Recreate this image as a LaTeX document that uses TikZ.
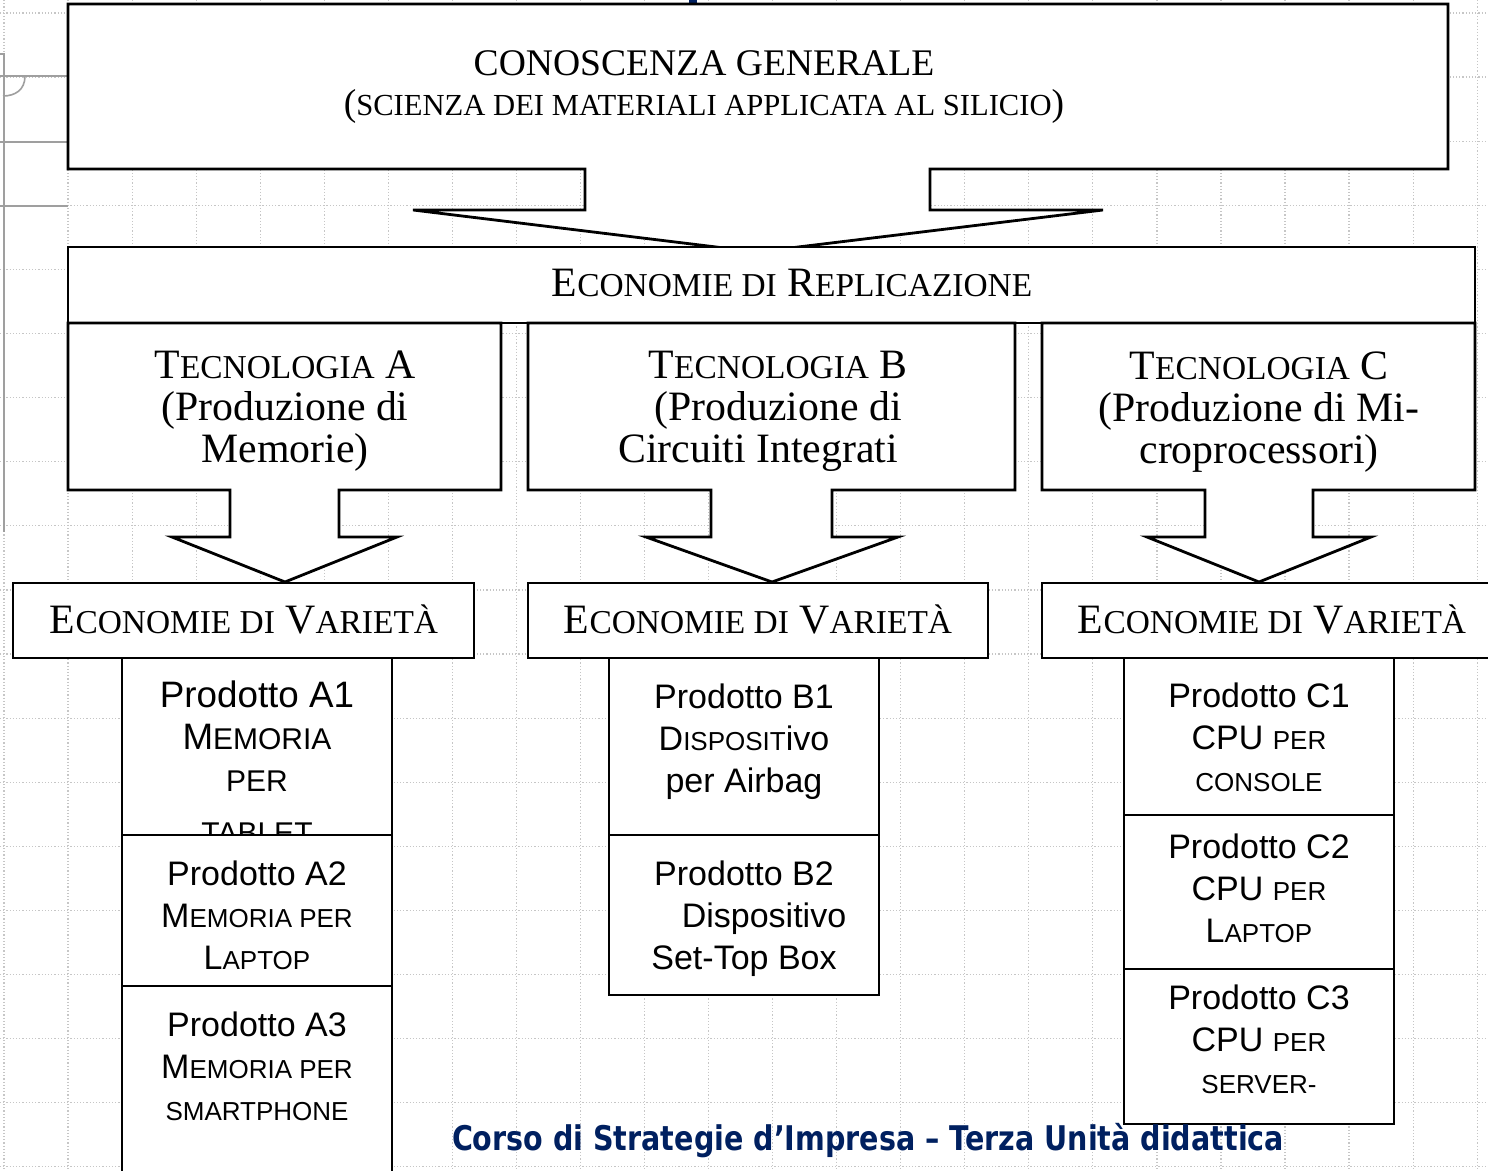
\documentclass[tikz,border=0pt]{standalone}
\usepackage{fontspec}
\setmainfont{Liberation Serif}
\setsansfont{Liberation Sans}
\newfontfamily\footfont{DejaVu Sans}
\definecolor{navy}{RGB}{0,32,96}
% small caps faked by size
\newcommand\sct[1]{{\fontsize{16.7}{21}\selectfont #1}}
\newcommand\scp[1]{{\fontsize{13}{21}\selectfont #1}}
\newcommand\scpbig[1]{{\fontsize{15}{21}\selectfont #1}}

\begin{document}
\begin{tikzpicture}[x=0.5pt, y=-0.5pt,
  box/.style={draw, line width=1.4pt, fill=white, line join=miter},
  serif/.style={inner sep=0, align=center, font=\fontsize{20.9}{21}\selectfont},
  prod/.style={inner sep=0, align=center, anchor=north, font=\sffamily\fontsize{17}{21}\selectfont},
  prodbig/.style={prod, font=\sffamily\fontsize{18.4}{21}\selectfont},
  grid line/.style={gray!45, densely dotted, line width=0.6pt},
  mark line/.style={gray!75, line width=0.8pt}]
\useasboundingbox (0,0) rectangle (1488,1171);

% background grid
\foreach \i in {0,...,23}
  \draw[grid line] ({4+64.05*\i},0) -- ({4+64.05*\i},1171);
\foreach \j in {0,...,18}
  \draw[grid line] (0,{13+64.1*\j}) -- (1488,{13+64.1*\j});
\draw[mark line] (0,54) -- (4,54) -- (4,532);
\draw[mark line] (0,76) -- (68,76);
\draw[mark line] (25,76) .. controls (25,90) and (15,96) .. (3,96);
\draw[mark line] (0,142) -- (68,142);
\draw[mark line] (0,206) -- (68,206);
\fill[navy] (689,0) rectangle (697,4);

% conoscenza generale
\draw[box] (68,4) -- (1448,4) -- (1448,169) -- (930,169) -- (930,210) -- (1103,210)
  -- (757,252) -- (413,210) -- (585,210) -- (585,169) -- (68,169) -- cycle;
\node[inner sep=0, align=center, anchor=north, font=\fontsize{18.8}{20}\selectfont] (gen) at (704,50)
  {CONOSCENZA GENERALE\\(\fontsize{15.3}{20}\selectfont SCIENZA DEI MATERIALI APPLICATA AL SILICIO\fontsize{18.8}{20}\selectfont)};

% economie di replicazione
\draw[box] (68,247) rectangle (1475,323);
\node[serif, anchor=base] (repl) at (792,297) {E\sct{CONOMIE DI} R\sct{EPLICAZIONE}};

% tecnologie
\draw[box] (68,323) -- (501,323) -- (501,490) -- (339,490) -- (339,537) -- (397,537)
  -- (285,582) -- (172,537) -- (230,537) -- (230,490) -- (68,490) -- cycle;
\draw[box] (528,323) -- (1015,323) -- (1015,490) -- (832,490) -- (832,537) -- (898,537)
  -- (772,582) -- (646,537) -- (711,537) -- (711,490) -- (528,490) -- cycle;
\draw[box] (1042,323) -- (1475,323) -- (1475,490) -- (1313,490) -- (1313,537) -- (1371,537)
  -- (1259,582) -- (1147,537) -- (1205,537) -- (1205,490) -- (1042,490) -- cycle;
\node[serif, anchor=north] (tecA) at (285,351) {T\sct{ECNOLOGIA} A\\(Produzione di\\Memorie)};
\node[serif, anchor=north] (tecB) at (778,351) {T\sct{ECNOLOGIA} B\\(Produzione di\\Circuiti Integrati\hspace*{20pt}};
\node[serif, anchor=north] (tecC) at (1259,351) {T\sct{ECNOLOGIA} C\\(Produzione di Mi-\\croprocessori)};

% economie di varieta
\draw[box] (13,583) rectangle (474,658);
\draw[box] (528,583) rectangle (988,658);
\draw[box] (1042,583) rectangle (1502,658);
\node[serif, anchor=base] (varA) at (244,633) {E\sct{CONOMIE DI} V\sct{ARIETÀ}};
\node[serif, anchor=base] (varB) at (758,633) {E\sct{CONOMIE DI} V\sct{ARIETÀ}};
\node[serif, anchor=base] (varC) at (1272,633) {E\sct{CONOMIE DI} V\sct{ARIETÀ}};

% prodotti A
\draw[box] (122,658) rectangle (392,835);
\node[prodbig] (a1) at (257,680) {Prodotto A1\\M\scpbig{EMORIA}\\\scpbig{PER}\\[5pt]\scpbig{TABLET}};
\draw[box] (122,835) rectangle (392,986);
\node[prod] (a2) at (257,860) {Prodotto A2\\M\scp{EMORIA PER}\\L\scp{APTOP}};
\draw[box] (122,986) rectangle (392,1190);
\node[prod] (a3) at (257,1011) {Prodotto A3\\M\scp{EMORIA PER}\\\scp{SMARTPHONE}};

% prodotti B
\draw[box] (609,658) rectangle (879,835);
\node[prod] (b1) at (744,683) {Prodotto B1\\D\scp{ISPOSIT}ivo\\per Airbag};
\draw[box] (609,835) rectangle (879,995);
\node[prod] (b2) at (744,860) {Prodotto B2\\\hspace*{20pt}Dispositivo\\Set-Top Box};

% prodotti C
\draw[box] (1124,658) rectangle (1394,815);
\node[prod] (c1) at (1259,682) {Prodotto C1\\CPU \scp{PER}\\\scp{CONSOLE}};
\draw[box] (1124,815) rectangle (1394,969);
\node[prod] (c2) at (1259,833) {Prodotto C2\\CPU \scp{PER}\\L\scp{APTOP}};
\draw[box] (1124,969) rectangle (1394,1124);
\node[prod] (c3) at (1259,984) {Prodotto C3\\CPU \scp{PER}\\\scp{SERVER-}};

% footer
\node[inner sep=0, anchor=base, text=navy, font=\footfont\bfseries\fontsize{17}{20}\selectfont] (foot) at (868,1150)
  {\scalebox{0.84}[1]{Corso di Strategie d’Impresa – Terza Unità didattica}};
\end{tikzpicture}
\end{document}
